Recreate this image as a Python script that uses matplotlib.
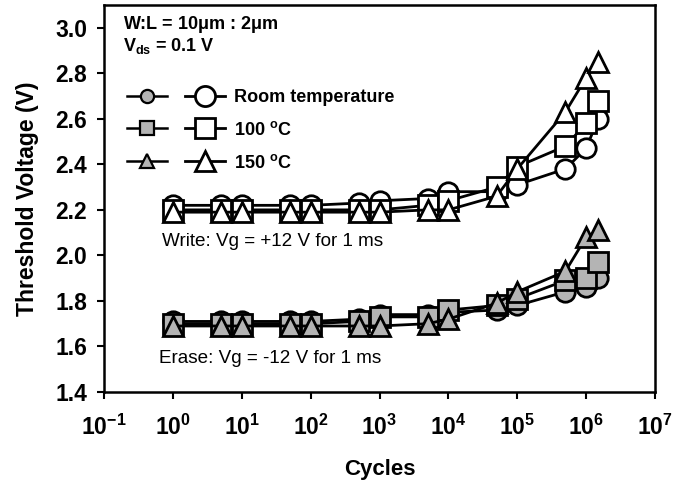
import math
import matplotlib
matplotlib.use("Agg")
import matplotlib.pyplot as plt
from matplotlib.lines import Line2D
from matplotlib.legend_handler import HandlerTuple
from matplotlib.ticker import FixedLocator, FuncFormatter, NullLocator

plt.rcParams['font.family'] = ['Liberation Sans', 'DejaVu Sans']
plt.rcParams['font.weight'] = 'bold'
plt.rcParams['mathtext.fontset'] = 'custom'
plt.rcParams['mathtext.rm'] = 'Liberation Sans:bold'
plt.rcParams['mathtext.bf'] = 'Liberation Sans:bold'
plt.rcParams['mathtext.it'] = 'Liberation Sans:bold'
plt.rcParams['mathtext.default'] = 'rm'

# ---- data ----
cycles = [1, 5, 10, 50, 100, 500, 1000, 5000, 10000, 50000, 100000, 500000, 1000000, 1500000]

# write state (open markers)
write_rt = [2.22, 2.22, 2.22, 2.22, 2.22, 2.23, 2.24, 2.25, 2.28, 2.28, 2.31, 2.38, 2.47, 2.60]
write_100 = [2.20, 2.20, 2.20, 2.20, 2.20, 2.20, 2.20, 2.22, 2.24, 2.30, 2.39, 2.48, 2.58, 2.68]
write_150 = [2.19, 2.19, 2.19, 2.19, 2.19, 2.19, 2.19, 2.20, 2.20, 2.26, 2.38, 2.63, 2.78, 2.85]

# erase state (filled markers)
erase_rt = [1.71, 1.71, 1.71, 1.71, 1.71, 1.72, 1.74, 1.74, 1.75, 1.76, 1.78, 1.84, 1.86, 1.90]
erase_100 = [1.70, 1.70, 1.70, 1.70, 1.70, 1.71, 1.73, 1.73, 1.76, 1.78, 1.81, 1.89, 1.90, 1.97]
erase_150 = [1.69, 1.69, 1.69, 1.69, 1.69, 1.69, 1.69, 1.70, 1.72, 1.79, 1.84, 1.93, 2.08, 2.11]

series_labels = ['Room temperature', '100 $^{\\mathrm{o}}$C', '150 $^{\\mathrm{o}}$C']
markers = ['o', 's', '^']
x_exponents = [-1, 0, 1, 2, 3, 4, 5, 6, 7]
y_ticks = [1.4, 1.6, 1.8, 2.0, 2.2, 2.4, 2.6, 2.8, 3.0]

fill_gray = '#b4b4b4'
ms = 14
mew = 2.0
lw = 2.0

fig = plt.figure(figsize=(6.91, 4.80), dpi=100)
ax = fig.add_axes([104/691, 1-392/480, (655-104)/691, (392-5)/480])

for ys, m in zip([write_rt, write_100, write_150], markers):
    ax.plot(cycles, ys, marker=m, ms=ms, mew=mew, mfc='white', mec='black',
            color='black', lw=lw, zorder=3)
for ys, m in zip([erase_rt, erase_100, erase_150], markers):
    ax.plot(cycles, ys, marker=m, ms=ms, mew=mew, mfc=fill_gray, mec='black',
            color='black', lw=lw, zorder=3)

ax.set_xscale('log')
ax.set_xlim(10.0**x_exponents[0], 10.0**x_exponents[-1])
ax.set_ylim(1.4, 3.1)
ax.xaxis.set_major_locator(FixedLocator([10.0**e for e in x_exponents]))
ax.xaxis.set_minor_locator(NullLocator())
ax.xaxis.set_major_formatter(FuncFormatter(lambda v, p: '$10^{%d}$' % round(math.log10(v))))
ax.yaxis.set_major_locator(FixedLocator(y_ticks))
ax.yaxis.set_major_formatter(FuncFormatter(lambda v, p: '%.1f' % v))

for s in ax.spines.values():
    s.set_linewidth(1.8)
ax.tick_params(axis='both', which='major', direction='out', length=5, width=1.5,
               labelsize=16.5)
ax.tick_params(axis='y', pad=7)
ax.tick_params(axis='x', pad=11)
for lab in ax.get_xticklabels() + ax.get_yticklabels():
    lab.set_fontweight('bold')

ax.set_xlabel('Cycles', fontsize=16, fontweight='bold', labelpad=14)
ax.set_ylabel('Threshold Voltage (V)', fontsize=16.5, fontweight='bold', labelpad=12)

# annotations
ax.text(0.034, (392-29)/387, 'W:L = 10$\\mu$m : 2$\\mu$m', transform=ax.transAxes,
        fontsize=13, fontweight='bold', va='baseline', ha='left')
ax.text(0.034, (392-51)/387, 'V$_{\\mathrm{ds}}$ = 0.1 V', transform=ax.transAxes,
        fontsize=13, fontweight='bold', va='baseline', ha='left')
ax.text((162-104)/551, (392-246)/387, 'Write: Vg = +12 V for 1 ms', transform=ax.transAxes,
        fontsize=13.6, fontweight='normal', va='baseline', ha='left')
ax.text((159-104)/551, (392-363)/387, 'Erase: Vg = -12 V for 1 ms', transform=ax.transAxes,
        fontsize=13.6, fontweight='normal', va='baseline', ha='left')

# legend: filled + open marker pairs per temperature
filled_h = [Line2D([], [], marker=m, ms=9.5, mew=1.6, mfc=fill_gray, mec='black',
                   color='black', lw=1.8) for m in markers]
open_h = [Line2D([], [], marker=m, ms=14.5, mew=2.0, mfc='white', mec='black',
                 color='black', lw=2.0) for m in markers]
pairs = [(f, o) for f, o in zip(filled_h, open_h)]
leg = ax.legend(pairs, series_labels, loc='upper left',
                bbox_to_anchor=((127-104)/551, (392-89)/387), frameon=False,
                borderpad=0, borderaxespad=0, handlelength=5.4, handletextpad=0.55,
                labelspacing=0.82, numpoints=1,
                handler_map={tuple: HandlerTuple(ndivide=None, pad=1.0)},
                prop={'size': 13, 'weight': 'bold'})

fig.savefig('out.png', dpi=100)
